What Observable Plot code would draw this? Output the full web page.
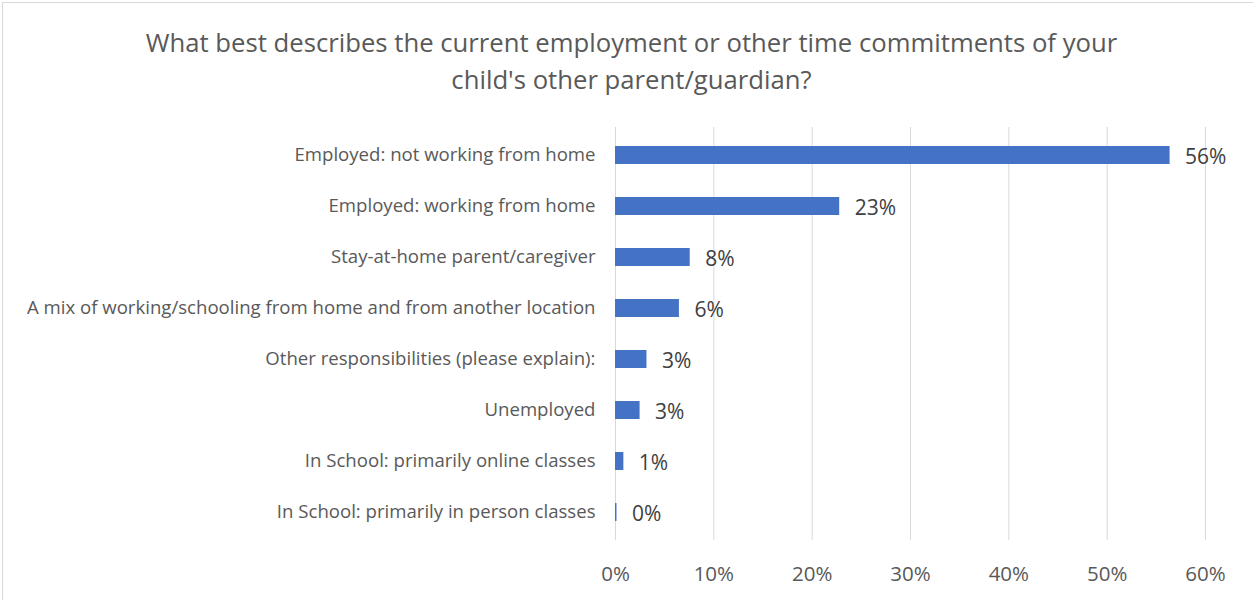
<!DOCTYPE html>
<html>
<head>
<meta charset="utf-8">
<script src="https://cdn.jsdelivr.net/npm/d3@7"></script>
<script src="https://cdn.jsdelivr.net/npm/@observablehq/plot@0.6"></script>
<style>
  html, body { margin: 0; padding: 0; background: #fff; }
  #wrap { position: relative; width: 1253px; height: 600px; box-sizing: border-box; overflow: hidden; }
  #frame { position: absolute; left: 2px; top: 2px; width: 1260px; height: 620px; border: 1px solid #d9d9d9; box-sizing: border-box; pointer-events: none; }
  #title { height: 110px; box-sizing: border-box; padding-top: 24px; text-align: center; font-family: "Open Sans", Lato, sans-serif; font-size: 25.7px; line-height: 37px; color: #595959; padding-left: 10px; }
  #chart svg { display: block; }
</style>
</head>
<body>
<div id="wrap">
  <div id="frame"></div>
  <div id="title">What best describes the current employment or other time commitments of your<br>child's other parent/guardian?</div>
  <div id="chart"></div>
</div>
<script>
const categories = [
  "Employed: not working from home",
  "Employed: working from home",
  "Stay-at-home parent/caregiver",
  "A mix of working/schooling from home and from another location",
  "Other responsibilities (please explain):",
  "Unemployed",
  "In School: primarily online classes",
  "In School: primarily in person classes"
];
const values = [0.564, 0.228, 0.076, 0.065, 0.032, 0.025, 0.0085, 0.0015];
const labels = ["56%", "23%", "8%", "6%", "3%", "3%", "1%", "0%"];
const xTicks = [0, 0.1, 0.2, 0.3, 0.4, 0.5, 0.6];

const data = categories.map((c, i) => ({category: c, value: values[i], label: labels[i]}));

const chart = Plot.plot({
  width: 1253,
  height: 490,
  marginTop: 17,
  marginBottom: 60,
  marginLeft: 615,
  marginRight: 48,
  style: {fontFamily: "'Open Sans', Lato, sans-serif", fontSize: "18px", color: "#595959", background: "#fff"},
  x: {domain: [0, 0.6], ticks: xTicks, tickFormat: d3.format(".0%"), label: null},
  y: {domain: categories, paddingInner: 0.65, paddingOuter: 0.325, label: null},
  marks: [
    Plot.gridX(xTicks, {stroke: "#d9d9d9", strokeOpacity: 1, strokeWidth: 1}),
    Plot.axisX({ticks: xTicks, tickFormat: d3.format(".0%"), tickSize: 0, tickPadding: 26, fontSize: 20.5, fill: "#595959", label: null}),
    Plot.axisY({tickSize: 0, tickPadding: 20, fontSize: 18.6, fill: "#595959", label: null}),
    Plot.barX(data, {x: "value", y: "category", fill: "#4472C4"}),
    Plot.text(data, {x: "value", y: "category", text: "label", textAnchor: "start", dx: 15, dy: 2, fontSize: 21, fill: "#404040"})
  ]
});
document.getElementById("chart").appendChild(chart);
</script>
</body>
</html>
